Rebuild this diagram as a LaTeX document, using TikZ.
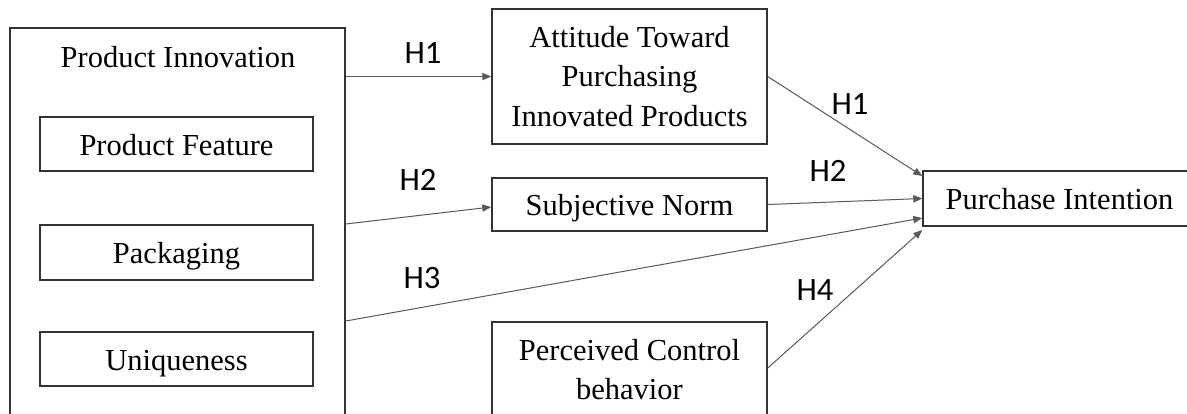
\documentclass[tikz,border=0pt]{standalone}
\usepackage{fontspec}
\setmainfont{Liberation Serif}
\newfontfamily\hypfont{Carlito}
\usetikzlibrary{arrows.meta}

\begin{document}
\begin{tikzpicture}[x=0.5pt, y=-0.5pt,
  box/.style={draw=black!80, line width=0.75pt, inner sep=0pt, align=center,
    font=\fontsize{15.25}{19.75}\selectfont},
  onebox/.style={box, text height=11pt, text depth=0pt},
  hyp/.style={inner sep=0pt, font=\hypfont\fontsize{16.3}{18}\selectfont},
  conn/.style={draw=black!65, line width=0.5pt, -{Triangle[length=4.5pt,width=3.6pt]}}]
\useasboundingbox (0,0) rectangle (1187,413);

% left block
\node[box, minimum width=167.5pt, minimum height=206pt] (innov) at (177.5,234) {};
\node[anchor=base, inner sep=0pt, font=\fontsize{15.25}{19.75}\selectfont] (innovtitle) at (178,67) {Product Innovation};
\node[onebox, minimum width=136.5pt, minimum height=27pt] (feature) at (176.5,144) {Product Feature};
\node[onebox, minimum width=136.5pt, minimum height=27.5pt] (pack) at (176.5,252.5) {Packaging};
\node[onebox, minimum width=136.5pt, minimum height=27pt] (uniq) at (176.5,359) {Uniqueness};

% middle column
\node[box, minimum width=137.5pt, minimum height=67.5pt] (att) at (629.5,76.5) {Attitude Toward\\Purchasing\\Innovated Products};
\node[onebox, minimum width=137.5pt, minimum height=26.5pt] (subj) at (629.5,204.5) {Subjective Norm};
\node[box, minimum width=137.5pt, minimum height=47.5pt] (perc) at (629.5,369.5) {Perceived Control\\behavior};

% outcome
\node[onebox, minimum width=136.5pt, minimum height=27.5pt] (pi) at (1059.5,198.5) {Purchase Intention};

\draw[conn] (innov.east |- att.west) -- (att.west);
\draw[conn] (innov.east |- 0,224) -- (subj.west |- 0,207);
\draw[conn] (innov.east |- 0,321) -- (pi.west |- 0,218);
\draw[conn] (att.east) -- (pi.west |- 0,176);
\draw[conn] (subj.east) -- (pi.west);
\draw[conn] (perc.east |- 0,368) -- (pi.west |- 0,230);

\node[hyp] (h1a) at (423,53) {H1};
\node[hyp] (h2a) at (418,180) {H2};
\node[hyp] (h3) at (422,278) {H3};
\node[hyp] (h1b) at (850,104) {H1};
\node[hyp] (h2b) at (828,171) {H2};
\node[hyp] (h4) at (815,290) {H4};
\end{tikzpicture}
\end{document}
